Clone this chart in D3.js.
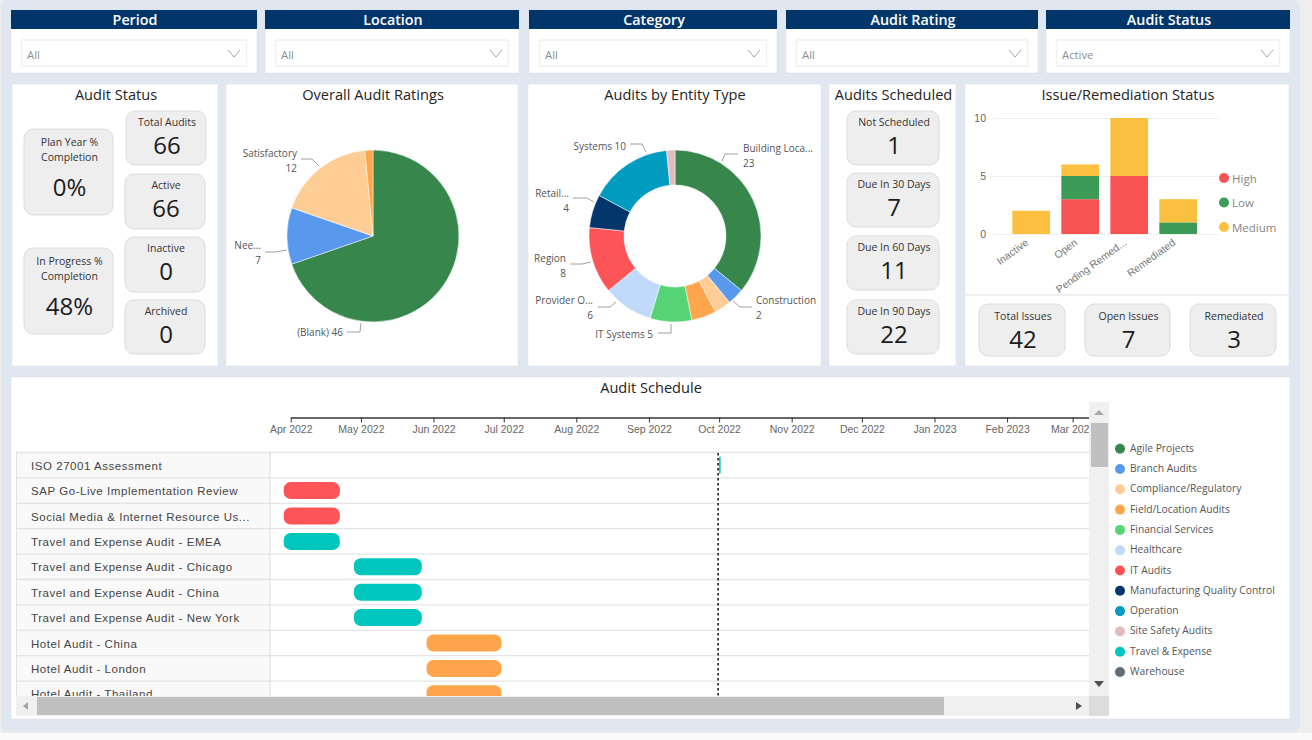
<!DOCTYPE html>
<html>
<head>
<meta charset="utf-8">
<script src="https://cdn.jsdelivr.net/npm/d3@7"></script>
<style>
  html, body { margin: 0; padding: 0; background: #fff; overflow: hidden; }
  svg { display: block; font-family: "Open Sans", "Noto Sans", sans-serif; }
  .gantt-text { font-family: "Liberation Sans", Arial, sans-serif; }
</style>
</head>
<body>
<svg id="chart" width="1312" height="740"></svg>
<script>
// filters
const filterNames = ["Period", "Location", "Category", "Audit Rating", "Audit Status"];
const filterValues = ["All", "All", "All", "All", "Active"];

// kpi cards
const statusCards = [["Total Audits", "66"], ["Active", "66"], ["Inactive", "0"], ["Archived", "0"]];
const scheduleCards = [["Not Scheduled", "1"], ["Due In 30 Days", "7"], ["Due In 60 Days", "11"], ["Due In 90 Days", "22"]];
const issueCards = [["Total Issues", "42"], ["Open Issues", "7"], ["Remediated", "3"]];
const percentCards = [[["Plan Year %", "Completion"], "0%"], [["In Progress %", "Completion"], "48%"]];

// ratings pie
const ratingNames = ["(Blank)", "Needs Improvement", "Satisfactory", "Other"];
const ratingValues = [46, 7, 12, 1];

// entity donut
const entityNames = ["Building Location", "Construction", "Compliance", "Field", "IT Systems", "Provider Oversight", "Region", "Retail", "Systems", "Site"];
const entityValues = [23, 2, 2, 3, 5, 6, 8, 4, 10, 1];

// issues stacked bars
const issueStatuses = ["Inactive", "Open", "Pending Remed...", "Remediated"];
const severities = ["High", "Low", "Medium"];
const highCounts = [0, 3, 5, 0];
const lowCounts = [0, 2, 0, 1];
const mediumCounts = [2, 1, 5, 2];
const issueTicks = [0, 5, 10];

// gantt
const auditNames = ["ISO 27001 Assessment", "SAP Go-Live Implementation Review", "Social Media & Internet Resource Us...",
  "Travel and Expense Audit - EMEA", "Travel and Expense Audit - Chicago", "Travel and Expense Audit - China",
  "Travel and Expense Audit - New York", "Hotel Audit - China", "Hotel Audit - London", "Hotel Audit - Thailand"];
const auditStarts = ["2022-10-01", "2022-03-29", "2022-03-29", "2022-03-29", "2022-04-28", "2022-04-28", "2022-04-28", "2022-05-29", "2022-05-29", "2022-05-29"];
const auditEnds = ["2022-10-01", "2022-04-22", "2022-04-22", "2022-04-22", "2022-05-27", "2022-05-27", "2022-05-27", "2022-06-30", "2022-06-30", "2022-06-30"];
const auditGroups = ["Travel & Expense", "IT Audits", "IT Audits", "Travel & Expense", "Travel & Expense", "Travel & Expense", "Travel & Expense", "Field/Location Audits", "Field/Location Audits", "Field/Location Audits"];
const todayDate = "2022-10-01";
const axisStart = "2022-04-01";
const axisEnd = "2023-03-08";

const groupNames = ["Agile Projects", "Branch Audits", "Compliance/Regulatory", "Field/Location Audits", "Financial Services", "Healthcare",
  "IT Audits", "Manufacturing Quality Control", "Operation", "Site Safety Audits", "Travel & Expense", "Warehouse"];
const groupColors = ["#37864b", "#5899ee", "#fdcd95", "#ffa64d", "#55d375", "#bfdafb", "#fd5457", "#03366b", "#019cbf", "#e3bcbd", "#00c7be", "#5f6b76"];

const svg = d3.select("#chart");
const groupColor = d3.scaleOrdinal(groupNames, groupColors);
const parseDay = d3.utcParse("%Y-%m-%d");

// page background
svg.append("rect").attr("width", 1312).attr("height", 740).attr("fill", "#eeeeee");
svg.append("rect").attr("x", 1).attr("y", 0).attr("width", 1299).attr("height", 732).attr("rx", 6).attr("fill", "#e1e7f0");
svg.append("rect").attr("x", 0).attr("y", 733).attr("width", 1312).attr("height", 7).attr("fill", "#fafafa");

function panel(x0, y0, x1, y1) {
  svg.append("rect").attr("x", x0).attr("y", y0).attr("width", x1 - x0).attr("height", y1 - y0)
    .attr("fill", "#fff").attr("stroke", "#d8dde5").attr("stroke-width", 0.5);
}

function title(text, x, y) {
  svg.append("text").attr("x", x).attr("y", y).attr("text-anchor", "middle").attr("dominant-baseline", "central")
    .attr("font-size", 14.6).attr("fill", "#252423").text(text);
}

// filter strip
const filterX = [[11, 257], [265, 519], [529, 777], [786, 1038], [1046, 1290]];
filterNames.forEach((name, i) => {
  const [x0, x1] = filterX[i];
  panel(x0, 10, x1, 73);
  svg.append("rect").attr("x", x0).attr("y", 10).attr("width", x1 - x0).attr("height", 19).attr("fill", "#02366b");
  svg.append("text").attr("x", (x0 + x1) / 2 + 1).attr("y", 19.5).attr("text-anchor", "middle").attr("dominant-baseline", "central")
    .attr("font-size", 14.3).attr("font-weight", 600).attr("fill", "#fff").text(name);
  svg.append("rect").attr("x", x0 + 10.5).attr("y", 40).attr("width", x1 - x0 - 21).attr("height", 26).attr("fill", "#fff").attr("stroke", "#f1f1f1").attr("stroke-width", 1.5);
  svg.append("text").attr("x", x0 + 16).attr("y", 54.5).attr("dominant-baseline", "central")
    .attr("font-size", 11.3).attr("fill", "#8a8f94").text(filterValues[i]);
  const cx = x1 - 23;
  svg.append("path").attr("d", d3.line()([[cx - 6, 50], [cx, 57], [cx + 6, 50]])).attr("fill", "none").attr("stroke", "#a0a4a8");
});

panel(12, 84, 218, 366);
panel(226, 84, 518, 366);
panel(528, 84, 821, 366);
panel(829, 84, 956, 366);
panel(965, 84, 1289, 366);
panel(11, 377, 1290, 719);
svg.append("line").attr("x1", 965).attr("x2", 1289).attr("y1", 295).attr("y2", 295).attr("stroke", "#e6e9ee").attr("stroke-width", 1.5);

title("Audit Status", 116, 94);
title("Overall Audit Ratings", 373, 94);
title("Audits by Entity Type", 675, 94);
title("Audits Scheduled", 893.5, 94);
title("Issue/Remediation Status", 1128, 94);
title("Audit Schedule", 651, 387);

// kpi card: rounded grey box, label on top, big number under it
function card(x0, y0, x1, y1, labels, value, labelY, valueY, valueSize) {
  svg.append("rect").attr("x", x0).attr("y", y0).attr("width", x1 - x0).attr("height", y1 - y0).attr("rx", 9)
    .attr("fill", "#eeeeee").attr("stroke", "#dcdcdc").attr("stroke-width", 1);
  const cx = (x0 + x1) / 2 + 1;
  [].concat(labels).forEach((l, i) => {
    svg.append("text").attr("x", cx).attr("y", labelY + i * 15).attr("text-anchor", "middle").attr("dominant-baseline", "central")
      .attr("font-size", 10.5).attr("fill", "#333").text(l);
  });
  svg.append("text").attr("x", cx).attr("y", valueY).attr("text-anchor", "middle").attr("dominant-baseline", "central")
    .attr("font-size", valueSize).attr("fill", "#1b1b1b").text(value);
}

const statusBoxes = [[126, 111, 206, 165], [125, 174, 205, 229], [125, 237, 205, 292], [125, 300, 205, 354]];
statusCards.forEach((c, i) => {
  const b = statusBoxes[i];
  card(b[0], b[1], b[2], b[3], c[0], c[1], b[1] + 11, b[1] + 33.5, 24);
});
const scheduleTops = [111, 173, 236, 300];
scheduleCards.forEach((c, i) => {
  card(847, scheduleTops[i], 939, scheduleTops[i] + 54, c[0], c[1], scheduleTops[i] + 11, scheduleTops[i] + 33.5, 24);
});
const issueBoxes = [[979, 1065], [1085, 1170], [1190, 1276]];
issueCards.forEach((c, i) => {
  card(issueBoxes[i][0], 304, issueBoxes[i][1], 356, c[0], c[1], 316, 338.5, 24);
});
const percentTops = [129, 248];
percentCards.forEach((c, i) => {
  card(24, percentTops[i], 113, percentTops[i] + 86, c[0], c[1], percentTops[i] + 13, percentTops[i] + 57.5, 24);
});

// callout: text lines plus a small elbow leader
function callout(lines, anchor, tx, ty, leader) {
  lines.forEach((l, i) => {
    svg.append("text").attr("x", tx).attr("y", ty + i * 14.5).attr("text-anchor", anchor).attr("dominant-baseline", "central")
      .attr("font-size", 10).attr("fill", "#555").text(l);
  });
  svg.append("path").attr("d", d3.line()(leader)).attr("fill", "none").attr("stroke", "#888").attr("stroke-width", 0.8);
}

// ratings pie
const pieGen = d3.pie().sort(null);
const ratingColors = ["#37864b", "#5899ee", "#fdcd95", "#ffa64d"];
const ratingArc = d3.arc().innerRadius(0).outerRadius(86);
svg.append("g").attr("transform", "translate(373,236)")
  .selectAll("path").data(pieGen(ratingValues)).join("path")
  .attr("d", ratingArc).attr("fill", (d, i) => ratingColors[i]).attr("stroke", "#fff").attr("stroke-width", 0.5);

callout(["Satisfactory", "12"], "end", 297, 153, [[301, 159], [312, 159], [319, 166]]);
callout(["Nee...", "7"], "end", 261, 245, [[265, 252], [275, 252], [287, 250]]);
callout(["(Blank) 46"], "end", 343, 332, [[347, 332], [360, 332], [361, 323]]);

// entity donut
const entityColors = ["#37864b", "#5899ee", "#fdcd95", "#ffa64d", "#55d375", "#bfdafb", "#fd5457", "#03366b", "#019cbf", "#e3bcbd"];
const entityArc = d3.arc().innerRadius(51).outerRadius(86);
svg.append("g").attr("transform", "translate(675,236)")
  .selectAll("path").data(pieGen(entityValues)).join("path")
  .attr("d", entityArc).attr("fill", (d, i) => entityColors[i]).attr("stroke", "#fff").attr("stroke-width", 0.5);

callout(["Building Loca...", "23"], "start", 743, 148, [[722, 161], [725, 154], [738, 154]]);
callout(["Construction", "2"], "start", 756, 300, [[733, 301], [740, 307], [752, 307]]);
callout(["Systems 10"], "end", 626, 146, [[630, 144], [642, 144], [646, 152]]);
callout(["Retail...", "4"], "end", 569, 193, [[573, 198], [587, 198], [594, 202]]);
callout(["Region", "8"], "end", 566, 258, [[570, 264], [582, 264], [591, 262]]);
callout(["Provider O...", "6"], "end", 593, 300, [[598, 307], [610, 307], [616, 302]]);
callout(["IT Systems 5"], "end", 653, 334, [[658, 333], [671, 333], [671, 324]]);

// issues stacked bars
const severityColor = d3.scaleOrdinal(severities, ["#f95454", "#3d9b58", "#fbc040"]);
const issueRows = issueStatuses.map((s, i) => ({ status: s, High: highCounts[i], Low: lowCounts[i], Medium: mediumCounts[i] }));
const issueX = d3.scaleBand().domain(issueStatuses).range([1006.7, 1202.7]).paddingInner(0.23).paddingOuter(0.115);
const issueY = d3.scaleLinear().domain([0, 10]).range([234, 118]);

const yAxis = svg.append("g").attr("transform", "translate(993,0)")
  .call(d3.axisLeft(issueY).tickValues(issueTicks).tickSize(-225).tickPadding(7).tickFormat(d3.format("d")));
yAxis.select(".domain").remove();
yAxis.selectAll("line").attr("stroke", "#eeeeee");
yAxis.selectAll("text").attr("font-size", 10.5).attr("font-family", null).attr("fill", "#666");

svg.append("g").selectAll("g").data(d3.stack().keys(severities)(issueRows)).join("g")
  .attr("fill", s => severityColor(s.key))
  .selectAll("rect").data(s => s).join("rect")
  .attr("x", d => issueX(d.data.status)).attr("width", issueX.bandwidth())
  .attr("y", d => issueY(d[1])).attr("height", d => issueY(d[0]) - issueY(d[1]));

const xAxis = svg.append("g").attr("transform", "translate(0,234)").call(d3.axisBottom(issueX).tickSize(0));
xAxis.select(".domain").remove();
xAxis.selectAll("text").attr("font-size", 10.5).attr("font-family", null).attr("fill", "#777")
  .attr("text-anchor", "end").attr("dx", -7.5).attr("dy", 4)
  .attr("transform", "rotate(-36)");

severities.forEach((s, i) => {
  const y = 178 + i * 24.5;
  svg.append("circle").attr("cx", 1224).attr("cy", y).attr("r", 5).attr("fill", severityColor(s));
  svg.append("text").attr("x", 1232).attr("y", y).attr("dominant-baseline", "central").attr("font-size", 11.5).attr("fill", "#858585").text(s);
});

// gantt rows
const rowY = d3.scaleBand().domain(auditNames).range([452.5, 706.5]);
const timeX = d3.scaleUtc().domain([parseDay(axisStart), parseDay(axisEnd)]).range([290.7, 1089]);

const defs = svg.append("defs");
defs.append("clipPath").attr("id", "gantt-clip").append("rect")
  .attr("x", 16).attr("y", 400).attr("width", 1073).attr("height", 296);

const gantt = svg.append("g").attr("clip-path", "url(#gantt-clip)");
gantt.append("rect").attr("x", 16.5).attr("y", 452.5).attr("width", 253.5).attr("height", 254).attr("fill", "#f9f9f9");
gantt.selectAll("line.row").data(auditNames).join("line").attr("class", "row")
  .attr("x1", 16).attr("x2", 1089).attr("y1", d => rowY(d)).attr("y2", d => rowY(d))
  .attr("stroke", "#e4e4e4").attr("stroke-width", 1.3);
gantt.append("line").attr("x1", 270).attr("x2", 270).attr("y1", 452).attr("y2", 707).attr("stroke", "#e4e4e4").attr("stroke-width", 1.3);
gantt.append("line").attr("x1", 16.5).attr("x2", 16.5).attr("y1", 452).attr("y2", 707).attr("stroke", "#e4e4e4");

gantt.selectAll("text.name").data(auditNames).join("text").attr("class", "name gantt-text")
  .attr("x", 31).attr("y", d => rowY(d) + rowY.bandwidth() / 2 + 0.5).attr("dominant-baseline", "central")
  .attr("font-size", 11.5).attr("letter-spacing", 0.55).attr("fill", "#444").text(d => d);

const barH = 17;
gantt.selectAll("rect.bar").data(auditNames).join("rect").attr("class", "bar")
  .attr("x", (d, i) => timeX(parseDay(auditStarts[i])))
  .attr("width", (d, i) => Math.max(timeX(parseDay(auditEnds[i])) - timeX(parseDay(auditStarts[i])), 1.5))
  .attr("y", d => rowY(d) + (rowY.bandwidth() - barH) / 2)
  .attr("height", barH)
  .attr("rx", (d, i) => auditStarts[i] === auditEnds[i] ? 0 : 7)
  .attr("fill", (d, i) => groupColor(auditGroups[i]));

// today marker
gantt.append("line").attr("x1", timeX(parseDay(todayDate)) - 1).attr("x2", timeX(parseDay(todayDate)) - 1).attr("y1", 453).attr("y2", 696)
  .attr("stroke", "#111").attr("stroke-width", 1.5).attr("stroke-dasharray", "2.5 2.5");

// time axis
const timeAxis = gantt.append("g").attr("transform", "translate(0,417.5)")
  .call(d3.axisBottom(timeX).ticks(d3.utcMonth.every(1)).tickFormat(d3.utcFormat("%b %Y")).tickSize(5).tickSizeOuter(0).tickPadding(3.5));
timeAxis.select(".domain").attr("stroke", "#333").attr("stroke-width", 1.5);
timeAxis.selectAll("line").attr("stroke", "#333");
timeAxis.selectAll("text").attr("class", "gantt-text").attr("font-size", 10.5).attr("fill", "#666");

// scrollbars
svg.append("rect").attr("x", 16).attr("y", 696).attr("width", 1073).attr("height", 20).attr("fill", "#f0f0f0");
svg.append("rect").attr("x", 37).attr("y", 697).attr("width", 907).attr("height", 18).attr("fill", "#c0c0c0");
svg.append("rect").attr("x", 1089).attr("y", 402).attr("width", 20).attr("height", 294).attr("fill", "#f0f0f0");
svg.append("rect").attr("x", 1091).attr("y", 423).attr("width", 17).attr("height", 44).attr("fill", "#c0c0c0");
svg.append("rect").attr("x", 1089).attr("y", 696).attr("width", 20).attr("height", 20).attr("fill", "#dcdcdc");
const arrows = [[[28, 702], [28, 710], [23, 706]], [[1076, 702], [1076, 710], [1082, 706]],
  [[1094, 415], [1104, 415], [1099, 410]], [[1094, 681], [1104, 681], [1099, 687]]];
arrows.forEach((a, i) => {
  svg.append("path").attr("d", d3.line()(a) + "Z").attr("fill", i === 1 || i === 3 ? "#505050" : "#a6a6a6");
});

// legend
groupNames.forEach((g, i) => {
  const y = 448.7 + i * 20.3;
  svg.append("circle").attr("cx", 1120).attr("cy", y).attr("r", 5).attr("fill", groupColor(g));
  svg.append("text").attr("x", 1130).attr("y", y - 1).attr("dominant-baseline", "central").attr("font-size", 10.25).attr("fill", "#555").text(g);
});
</script>
</body>
</html>
